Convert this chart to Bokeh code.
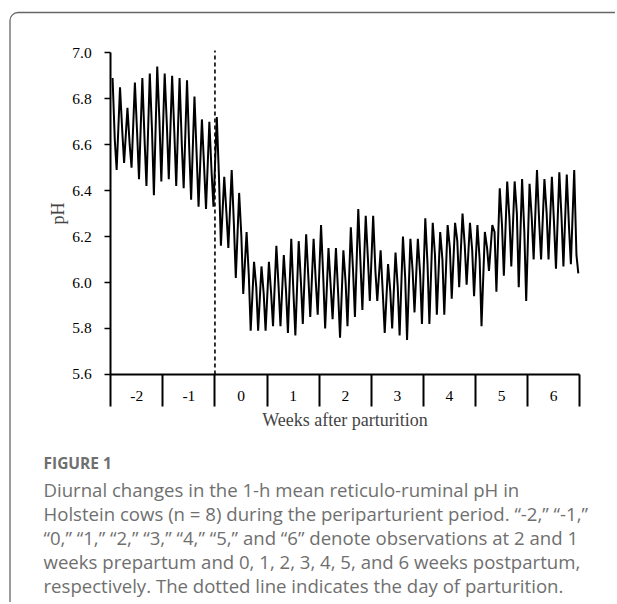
from bokeh.plotting import figure
from bokeh.models import Range1d, LinearAxis, FixedTicker, PrintfTickFormatter
from bokeh.core.properties import value
from bokeh.embed import file_html
from bokeh.resources import INLINE

# ---------------- data ----------------
week_labels = ["-2", "-1", "0", "1", "2", "3", "4", "5", "6"]
days_per_week = 7
parturition_day = 14

# daily maximum (peak) of the 1-h mean pH, 63 days
peak_ph = [
    6.89, 6.85, 6.76, 6.87, 6.89, 6.91, 6.94,
    6.91, 6.90, 6.89, 6.88, 6.81, 6.71, 6.70,
    6.72, 6.46, 6.49, 6.39, 6.22, 6.09, 6.07,
    6.09, 6.16, 6.12, 6.19, 6.18, 6.21, 6.19,
    6.25, 6.15, 6.15, 6.14, 6.24, 6.32, 6.29,
    6.29, 6.14, 6.08, 6.13, 6.20, 6.19, 6.19,
    6.28, 6.26, 6.22, 6.25, 6.26, 6.30, 6.26,
    6.25, 6.22, 6.25, 6.41, 6.44, 6.44, 6.45,
    6.43, 6.49, 6.45, 6.46, 6.48, 6.47, 6.49,
]
# secondary (shoulder) level within each day
mid_ph = [
    6.62, 6.66, 6.60, 6.65, 6.62, 6.66, 6.70,
    6.68, 6.65, 6.60, 6.58, 6.55, 6.50, 6.48,
    6.45, 6.30, 6.25, 6.20, 6.03, 5.98, 5.95,
    5.95, 5.98, 5.96, 5.95, 6.00, 6.02, 6.00,
    6.02, 5.98, 5.95, 6.00, 6.05, 6.08, 6.10,
    6.05, 5.95, 5.96, 5.98, 6.02, 6.05, 6.04,
    6.08, 6.12, 6.10, 6.15, 6.18, 6.16, 6.14,
    6.10, 6.15, 6.22, 6.25, 6.28, 6.30, 6.22,
    6.28, 6.26, 6.30, 6.25, 6.28, 6.24, 6.12,
]
# daily minimum (trough)
trough_ph = [
    6.49, 6.52, 6.50, 6.45, 6.42, 6.38, 6.44,
    6.45, 6.42, 6.41, 6.36, 6.33, 6.32, 6.33,
    6.16, 6.15, 6.02, 5.95, 5.79, 5.79, 5.79,
    5.81, 5.81, 5.78, 5.77, 5.82, 5.85, 5.86,
    5.80, 5.84, 5.76, 5.81, 5.85, 5.88, 5.92,
    5.92, 5.78, 5.80, 5.77, 5.75, 5.87, 5.82,
    5.82, 5.86, 5.86, 5.93, 5.98, 5.99, 5.94,
    5.81, 6.05, 5.96, 6.03, 6.07, 5.98, 5.92,
    6.10, 6.10, 6.10, 6.06, 6.07, 6.08, 6.04,
]
y_ticks = [5.6, 5.8, 6.0, 6.2, 6.4, 6.6, 6.8, 7.0]

caption_title = "FIGURE 1"
caption_lines = [
    "Diurnal changes in the 1-h mean reticulo-ruminal pH in",
    "Holstein cows (n = 8) during the periparturient period. \u201c-2,\u201d \u201c-1,\u201d",
    "\u201c0,\u201d \u201c1,\u201d \u201c2,\u201d \u201c3,\u201d \u201c4,\u201d \u201c5,\u201d and \u201c6\u201d denote observations at 2 and 1",
    "weeks prepartum and 0, 1, 2, 3, 4, 5, and 6 weeks postpartum,",
    "respectively. The dotted line indicates the day of parturition.",
]

# ---------------- layout ----------------
W, H = 615, 602
n_days = len(week_labels) * days_per_week
y_min, y_max = y_ticks[0], y_ticks[-1]
X0_PX, X1_PX = 110.2, 579.3      # canvas px of day 0 and last day
YT_PX, YB_PX = 52.3, 373.9       # canvas px of y_max and y_min
ppd = (X1_PX - X0_PX) / n_days
ppu = (YB_PX - YT_PX) / (y_max - y_min)
x_range = Range1d(0 - X0_PX / ppd, n_days + (W - X1_PX) / ppd)
y_range = Range1d(y_min - (H - YB_PX) / ppu, y_max + YT_PX / ppu)

p = figure(width=W, height=H, x_range=x_range, y_range=y_range,
           x_axis_type=None, y_axis_type=None, output_backend="svg",
           toolbar_location=None, min_border=0, outline_line_color=None)
p.extra_x_ranges = {"px": Range1d(0, W)}
p.extra_y_ranges = {"px": Range1d(H, 0)}

# outer rounded border (extends beyond the visible window on right/bottom)
p.quad(left=[9.5], right=[W + 60], top=[12], bottom=[H + 60],
       fill_color=None, line_color="#666666", line_width=1.3,
       border_radius=8, x_range_name="px", y_range_name="px")

# series
xs, ys = [], []
for d in range(n_days):
    xs += [d + 0.25, d + 0.55, d + 0.8]
    ys += [peak_ph[d], mid_ph[d], trough_ph[d]]
p.line(xs, ys, line_color="black", line_width=2)

# parturition dashed line
p.segment(x0=[parturition_day], y0=[y_min], x1=[parturition_day], y1=[y_max + 0.01],
          line_color="black", line_width=1.6, line_dash="4 3")

serif = "Liberation Serif"
# y axis
yax = LinearAxis(fixed_location=0, bounds=(y_min, y_max),
                 ticker=FixedTicker(ticks=y_ticks),
                 formatter=PrintfTickFormatter(format="%.1f"),
                 major_tick_out=6, major_tick_in=0,
                 minor_tick_out=0, minor_tick_in=0,
                 axis_line_width=2, major_tick_line_width=1.5,
                 major_label_text_font=serif, major_label_text_font_size="15.5px",
                 major_label_text_color="black",
                 major_label_standoff=13,
                 axis_label="pH", axis_label_text_font=serif,
                 axis_label_text_font_size="18px",
                 axis_label_text_font_style="normal",
                 axis_label_standoff=1)
p.add_layout(yax, "left")

# x axis: week boundaries with long ticks
bounds_ticks = [w * days_per_week for w in range(len(week_labels) + 1)]
xb = LinearAxis(fixed_location=y_min, bounds=(0, n_days),
                ticker=FixedTicker(ticks=bounds_ticks),
                major_tick_out=32, major_tick_in=0,
                minor_tick_out=0, minor_tick_in=0,
                axis_line_width=2, major_tick_line_width=2,
                major_label_text_color=None)
p.add_layout(xb, "below")

# x axis: week labels at mid-week
mid_ticks = [w * days_per_week + days_per_week / 2 for w in range(len(week_labels))]
overrides = {}
for t, lab in zip(mid_ticks, week_labels):
    overrides[t] = lab
    overrides[str(t)] = lab
xl = LinearAxis(fixed_location=y_min, bounds=(0, n_days),
                ticker=FixedTicker(ticks=mid_ticks),
                major_label_overrides=overrides,
                major_tick_out=0, major_tick_in=0,
                minor_tick_out=0, minor_tick_in=0,
                axis_line_color=None,
                major_label_text_font=serif, major_label_text_font_size="15.5px",
                major_label_text_color="black",
                major_label_standoff=17,
                axis_label="Weeks after parturition", axis_label_text_font=serif,
                axis_label_text_font_size="18px",
                axis_label_text_font_style="normal",
                axis_label_standoff=5)
p.add_layout(xl, "below")

# caption
p.text(x=[43], y=[462], text=[caption_title], text_font=value("Open Sans"),
       text_font_size="15.5px", text_font_style="bold", text_color="#6f6f6f",
       text_baseline="middle", text_align="left",
       x_range_name="px", y_range_name="px")
cap_y = [489, 513, 537, 561, 585]
p.text(x=[43] * len(caption_lines), y=cap_y, text=caption_lines,
       text_font=value("Open Sans"), text_font_size="18.6px",
       text_color="#6f6f6f", text_baseline="middle", text_align="left",
       x_range_name="px", y_range_name="px")

open("out.html", "w").write(file_html(p, INLINE))
